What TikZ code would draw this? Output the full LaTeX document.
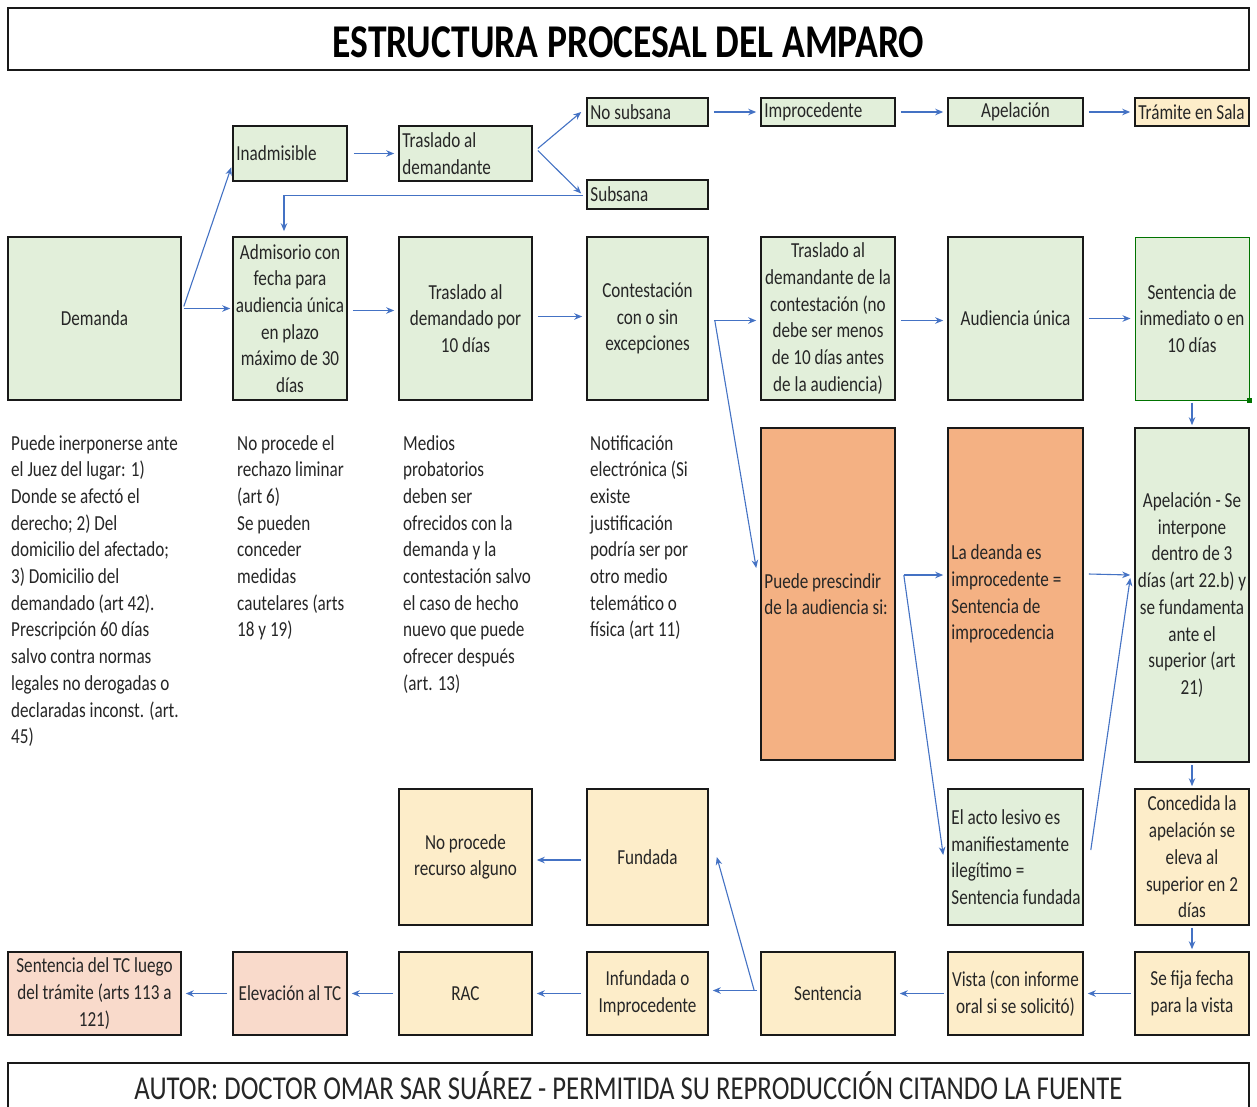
\documentclass[tikz,border=0pt]{standalone}
\usepackage{fontspec}
\setmainfont{Carlito}[FakeStretch=0.8]
\usetikzlibrary{arrows.meta}
\definecolor{gfill}{HTML}{E2EFDA}
\definecolor{bfill}{HTML}{FDEDC9}
\definecolor{ofill}{HTML}{F4B183}
\definecolor{pfill}{HTML}{F9DACB}
\definecolor{arr}{HTML}{4472C4}
\definecolor{txt}{HTML}{262626}
\tikzset{
  box/.style={draw=black!90, line width=1.6pt, inner sep=0pt, align=center, text=txt,
    font=\fontsize{21.4}{26.7}\selectfont},
  gbox/.style={box, fill=gfill},
  bbox/.style={box, fill=bfill},
  obox/.style={box, fill=ofill},
  pbox/.style={box, fill=pfill},
  boxtext/.style={inner sep=0pt, align=left, anchor=west, text=txt,
    font=\fontsize{21.4}{26.7}\selectfont},
  note/.style={inner sep=0pt, align=left, anchor=north west, text=txt,
    font=\fontsize{21.4}{26.7}\selectfont},
  conn/.style={draw=arr, line width=1.1pt, -{Stealth[length=8pt,width=6.5pt]}},
}
% centred box
\newcommand\bx[7]{%
  \pgfmathsetmacro\bxw{#5-#3}\pgfmathsetmacro\bxh{#6-#4}%
  \pgfmathsetmacro\bxcx{(#3+#5)/2}\pgfmathsetmacro\bxcy{(#4+#6)/2}%
  \node[#2, minimum width=\bxw pt, minimum height=\bxh pt] (#1) at (\bxcx,\bxcy) {#7};}
% box with left-aligned text
\newcommand\bxl[7]{%
  \bx{#1}{#2}{#3}{#4}{#5}{#6}{}%
  \node[boxtext] (#1-t) at ([xshift=4pt]#1.west) {#7};}
\begin{document}
\begin{tikzpicture}[x=1pt,y=-1pt]
\clip (0,0) rectangle (1257,1106);
\fill[white] (0,0) rectangle (1257,1106);
% title
\bx{titlebox}{draw=black!90, line width=1.6pt, inner sep=0pt}{8}{8}{1249}{70}{}
\node[text=black, font=\bfseries\fontsize{47}{50}\selectfont, yshift=-3pt] (title) at (titlebox.center) {ESTRUCTURA PROCESAL DEL AMPARO};
% footer
\bx{footbox}{draw=black!90, line width=1.6pt, inner sep=0pt}{8}{1063}{1249}{1140}{}
\node[anchor=base, text=txt, font=\fontsize{33.4}{36}\selectfont] (foot) at (628.5,1099) {AUTOR: DOCTOR OMAR SAR SUÁREZ - PERMITIDA SU REPRODUCCIÓN CITANDO LA FUENTE};
% top rows
\bxl{nosub}{gbox}{587}{98}{708}{126}{No subsana}
\bxl{impr}{gbox}{761}{98}{895}{126}{Improcedente}
\bx{apel}{gbox}{948}{98}{1083}{126}{Apelación}
\bxl{tram}{bbox}{1135}{98}{1249}{126}{Trámite en Sala}
\bxl{ina}{gbox}{233}{126}{347}{181}{Inadmisible}
\bxl{tdte}{gbox}{399}{126}{532}{181}{Traslado al\\demandante}
\bxl{sub}{gbox}{587}{180}{708}{209}{Subsana}
% row 2
\bx{dem}{gbox}{8}{237}{181}{400}{Demanda}
\bx{adm}{gbox}{233}{237}{347}{400}{Admisorio con\\fecha para\\audiencia única\\en plazo\\máximo de 30\\días}
\bx{tdo}{gbox}{399}{237}{532}{400}{Traslado al\\demandado por\\10 días}
\bx{con}{gbox}{587}{237}{708}{400}{Contestación\\con o sin\\excepciones}
\bx{tdc}{gbox}{761}{237}{895}{400}{Traslado al\\demandante de la\\contestación (no\\debe ser menos\\de 10 días antes\\de la audiencia)}
\bx{aud}{gbox}{948}{237}{1083}{400}{Audiencia única}
\bx{sin}{gbox,draw=green!45!black,line width=1pt}{1135}{237}{1249}{400}{Sentencia de\\inmediato o en\\10 días}
\fill[green!45!black] ([xshift=-2.5pt,yshift=-2.5pt]sin.south east) rectangle ([xshift=2.5pt,yshift=2.5pt]sin.south east);
% notes
\node[note] (n1) at (11,435) {Puede inerponerse ante\\el Juez del lugar: 1)\\Donde se afectó el\\derecho; 2) Del\\domicilio del afectado;\\3) Domicilio del\\demandado (art 42).\\Prescripción 60 días\\salvo contra normas\\legales no derogadas o\\declaradas inconst. (art.\\45)};
\node[note] (n2) at (237,435) {No procede el\\rechazo liminar\\(art 6)\\Se pueden\\conceder\\medidas\\cautelares (arts\\18 y 19)};
\node[note] (n3) at (403,435) {Medios\\probatorios\\deben ser\\ofrecidos con la\\demanda y la\\contestación salvo\\el caso de hecho\\nuevo que puede\\ofrecer después\\(art. 13)};
\node[note] (n4) at (590,435) {Notificación\\electrónica (Si\\existe\\justificación\\podría ser por\\otro medio\\telemático o\\física (art 11)};
% row 3
\bxl{pp}{obox}{761}{428}{895}{760}{Puede prescindir\\de la audiencia si:}
\bxl{dea}{obox}{948}{428}{1083}{760}{La deanda es\\improcedente =\\Sentencia de\\improcedencia}
\bx{apl}{gbox}{1135}{428}{1249}{762}{Apelación - Se\\interpone\\dentro de 3\\días (art 22.b) y\\se fundamenta\\ante el\\superior (art\\21)}
% row 4
\bx{nop}{bbox}{399}{789}{532}{925}{No procede\\recurso alguno}
\bx{fund}{bbox}{587}{789}{708}{925}{Fundada}
\bxl{acto}{gbox}{948}{789}{1083}{925}{El acto lesivo es\\manifiestamente\\ilegítimo =\\Sentencia fundada}
\bx{conc}{bbox}{1135}{789}{1249}{925}{Concedida la\\apelación se\\eleva al\\superior en 2\\días}
% row 5
\bx{stc}{pbox}{8}{952}{181}{1035}{Sentencia del TC luego\\del trámite (arts 113 a\\121)}
\bx{elev}{pbox}{233}{952}{347}{1035}{Elevación al TC}
\bx{rac}{bbox}{399}{952}{532}{1035}{RAC}
\bx{inf}{bbox}{587}{952}{708}{1035}{Infundada o\\Improcedente}
\bx{sent}{bbox}{761}{952}{895}{1035}{Sentencia}
\bx{vista}{bbox}{948}{952}{1083}{1035}{Vista (con informe\\oral si se solicitó)}
\bx{fija}{bbox}{1135}{952}{1249}{1035}{Se fija fecha\\para la vista}
% connectors
\draw[conn, shorten <=2pt, shorten >=2pt] ([yshift=10pt]dem.east) -- ([yshift=10pt]adm.west);
\draw[conn, shorten >=3pt] ([xshift=2pt,yshift=12pt]dem.east) -- ([yshift=-11pt]ina.west);
\draw[conn, shorten <=6pt, shorten >=4pt] (ina.east) -- (tdte.west);
\draw[conn] ([xshift=5pt,yshift=5pt]tdte.east) -- ([xshift=-5pt]nosub.west);
\draw[conn] ([xshift=5pt,yshift=3pt]tdte.east) -- ([xshift=-5pt,yshift=1pt]sub.west);
\draw[conn, shorten <=3pt, shorten >=5pt] ([yshift=-1pt]sub.west) -| ([xshift=-6pt]adm.north);
\draw[conn, shorten <=5pt, shorten >=4pt] (nosub.east) -- (impr.west);
\draw[conn, shorten <=5pt, shorten >=4pt] (impr.east) -- (apel.west);
\draw[conn, shorten <=5pt, shorten >=4pt] (apel.east) -- (tram.west);
\draw[conn, shorten <=5pt, shorten >=4pt] ([yshift=8pt]adm.east) -- ([yshift=8pt]tdo.west);
\draw[conn, shorten <=5pt, shorten >=4pt] ([yshift=2pt]tdo.east) -- ([yshift=2pt]con.west);
\draw[conn, shorten <=5pt, shorten >=4pt] ([yshift=-2pt]con.east) -- ([yshift=-2pt]tdc.west);
\draw[conn] ([xshift=6pt,yshift=-2pt]con.east) -- ([xshift=-4pt,yshift=26pt]pp.west);
\draw[conn, shorten <=5pt, shorten >=4pt] ([yshift=-2pt]tdc.east) -- ([yshift=-2pt]aud.west);
\draw[conn, shorten <=5pt, shorten >=4pt] (aud.east) -- (sin.west);
\draw[conn, shorten <=2pt, shorten >=2pt] (sin.south) -- (apl.north);
\draw[conn] ([xshift=8pt,yshift=19pt]pp.east) -- ([xshift=-4pt,yshift=19pt]dea.west);
\draw[conn] ([xshift=8pt,yshift=19pt]pp.east) -- ([xshift=-4pt,yshift=2pt]acto.west);
\draw[conn] ([xshift=5pt,yshift=20pt]dea.east) -- ([xshift=-4pt,yshift=20pt]apl.west);
\draw[conn] ([xshift=7pt,yshift=7pt]acto.east) -- ([xshift=-4pt,yshift=17pt]apl.west);
\draw[conn, shorten <=2pt, shorten >=2pt] (apl.south) -- (conc.north);
\draw[conn, shorten <=2pt, shorten >=2pt] (conc.south) -- (fija.north);
\draw[conn, shorten <=3pt, shorten >=4pt] (fija.west) -- (vista.east);
\draw[conn, shorten <=3pt, shorten >=4pt] (vista.west) -- (sent.east);
\draw[conn, shorten <=3pt, shorten >=4pt] ([yshift=3pt]sent.west) -- ([yshift=3pt]inf.east);
\draw[conn] ([xshift=-6pt,yshift=3pt]sent.west) -- ([xshift=8pt]fund.east);
\draw[conn, shorten <=5pt, shorten >=4pt] ([yshift=-3pt]fund.west) -- ([yshift=-3pt]nop.east);
\draw[conn, shorten <=5pt, shorten >=4pt] (inf.west) -- (rac.east);
\draw[conn, shorten <=5pt, shorten >=4pt] (rac.west) -- (elev.east);
\draw[conn, shorten <=5pt, shorten >=4pt] (elev.west) -- (stc.east);
\end{tikzpicture}
\end{document}
